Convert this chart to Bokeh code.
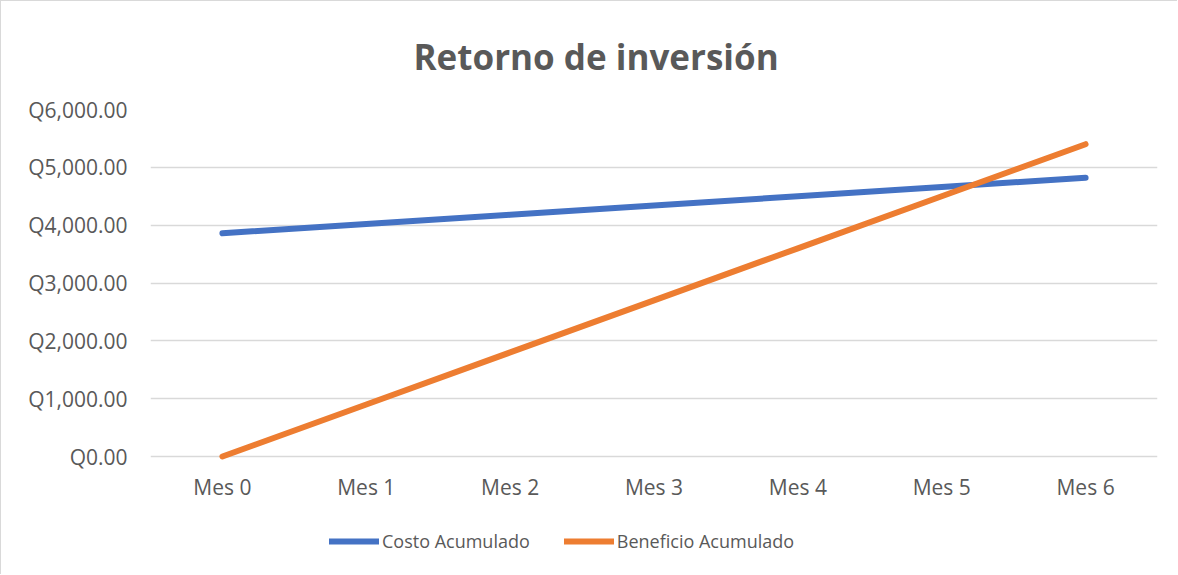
from bokeh.plotting import figure
from bokeh.models import Range1d, FactorRange, Legend, LegendItem, FixedTicker, CustomJSTickFormatter, Title
from bokeh.embed import file_html
from bokeh.resources import INLINE

months = ["Mes 0", "Mes 1", "Mes 2", "Mes 3", "Mes 4", "Mes 5", "Mes 6"]
costo = [3860, 4020, 4180, 4340, 4500, 4660, 4820]
beneficio = [0, 900, 1800, 2700, 3600, 4500, 5400]
y_ticks = [0, 1000, 2000, 3000, 4000, 5000, 6000]

FONT = "Open Sans"
GREY = "#595959"

p = figure(width=1177, height=574, x_range=FactorRange(*months), y_range=Range1d(-1988, 6000),
           output_backend="svg", toolbar_location=None,
           min_border_left=149, min_border_right=21, min_border_top=108, min_border_bottom=4)
p.styles = {"border-left": "1px solid #d9d9d9", "border-top": "1px solid #d9d9d9"}

p.title = Title(text="Retorno de inversión", text_font=FONT, text_font_size="35px",
                text_font_style="bold", text_color=GREY, align="left", offset=263, standoff=59)

p.outline_line_color = None
p.background_fill_color = "white"
p.border_fill_color = "white"

# y axis
p.yaxis.ticker = FixedTicker(ticks=y_ticks)
p.yaxis.formatter = CustomJSTickFormatter(code="""
return 'Q' + tick.toLocaleString('en-US', {minimumFractionDigits: 2, maximumFractionDigits: 2});
""")
p.yaxis.axis_line_color = None
p.yaxis.major_tick_line_color = None
p.yaxis.minor_tick_line_color = None
p.yaxis.major_label_text_font = FONT
p.yaxis.major_label_text_font_size = "21px"
p.yaxis.major_label_text_color = GREY
p.yaxis.major_label_standoff = 17

# x axis, pinned to the zero line
p.xaxis.fixed_location = 0
p.xaxis.axis_line_color = None
p.xaxis.major_tick_line_color = None
p.xaxis.major_label_text_font = FONT
p.xaxis.major_label_text_font_size = "21px"
p.xaxis.major_label_text_color = GREY
p.xaxis.major_label_standoff = 10

p.xgrid.grid_line_color = None
p.ygrid.grid_line_color = "#d9d9d9"
p.ygrid.grid_line_width = 1.5

r1 = p.line(months, costo, line_color="#4472c4", line_width=6, line_cap="round", line_join="round")
r2 = p.line(months, beneficio, line_color="#ed7d31", line_width=6, line_cap="round", line_join="round")

legend = Legend(items=[LegendItem(label="Costo Acumulado", renderers=[r1]),
                       LegendItem(label="Beneficio Acumulado", renderers=[r2])],
                orientation="horizontal", location=(179, 18),
                label_text_font=FONT, label_text_font_size="18px", label_text_color=GREY,
                glyph_width=50, glyph_height=20, label_standoff=3, spacing=34,
                padding=0, margin=0, border_line_color=None, background_fill_alpha=0)
p.add_layout(legend, "center")

open("out.html", "w").write(file_html(p, INLINE))
